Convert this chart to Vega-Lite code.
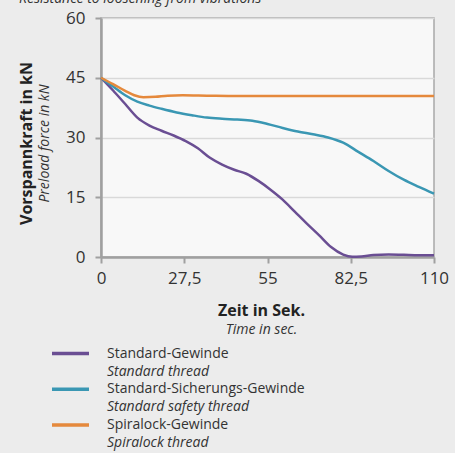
{
  "$schema": "https://vega.github.io/schema/vega-lite/v6.json",
  "width": 333,
  "height": 239,
  "autosize": "none",
  "padding": {"left": 101, "top": 18, "right": 21, "bottom": 196},
  "background": "#ececec",
  "config": {
    "font": "Open Sans",
    "view": {"fill": "#f8f8f8", "stroke": "#a8a8a8", "strokeWidth": 1.5},
    "axis": {
      "domainColor": "#a0a0a0", "domainWidth": 2.5,
      "tickColor": "#a0a0a0", "tickWidth": 2, "tickSize": 6,
      "labelFontSize": 17, "labelColor": "#333333", "labelFont": "Open Sans",
      "labelFlush": false, "labelOverlap": false,
      "titleColor": "#222222", "titleFont": "Open Sans",
      "gridColor": "#d9d9d9", "gridWidth": 1.5
    }
  },
  "title": {
    "text": "Resistance to loosening from vibrations",
    "fontStyle": "italic", "fontWeight": "normal", "fontSize": 14,
    "color": "#333333", "anchor": "start", "frame": "group",
    "baseline": "alphabetic", "dx": -82, "offset": -8
  },
  "data": {
    "values": [
      {"s": "Standard-Gewinde", "e": "Standard thread", "t": 0, "kN": 45},
      {"s": "Standard-Gewinde", "e": "Standard thread", "t": 4, "kN": 41.8},
      {"s": "Standard-Gewinde", "e": "Standard thread", "t": 8, "kN": 38.4},
      {"s": "Standard-Gewinde", "e": "Standard thread", "t": 12, "kN": 35},
      {"s": "Standard-Gewinde", "e": "Standard thread", "t": 16, "kN": 33},
      {"s": "Standard-Gewinde", "e": "Standard thread", "t": 20, "kN": 31.7},
      {"s": "Standard-Gewinde", "e": "Standard thread", "t": 24, "kN": 30.5},
      {"s": "Standard-Gewinde", "e": "Standard thread", "t": 28, "kN": 29.1},
      {"s": "Standard-Gewinde", "e": "Standard thread", "t": 32, "kN": 27.3},
      {"s": "Standard-Gewinde", "e": "Standard thread", "t": 36, "kN": 24.9},
      {"s": "Standard-Gewinde", "e": "Standard thread", "t": 40, "kN": 23.2},
      {"s": "Standard-Gewinde", "e": "Standard thread", "t": 44, "kN": 21.9},
      {"s": "Standard-Gewinde", "e": "Standard thread", "t": 48, "kN": 20.9},
      {"s": "Standard-Gewinde", "e": "Standard thread", "t": 52, "kN": 19.1},
      {"s": "Standard-Gewinde", "e": "Standard thread", "t": 56, "kN": 16.9},
      {"s": "Standard-Gewinde", "e": "Standard thread", "t": 60, "kN": 14.4},
      {"s": "Standard-Gewinde", "e": "Standard thread", "t": 64, "kN": 11.4},
      {"s": "Standard-Gewinde", "e": "Standard thread", "t": 68, "kN": 8.4},
      {"s": "Standard-Gewinde", "e": "Standard thread", "t": 72, "kN": 5.5},
      {"s": "Standard-Gewinde", "e": "Standard thread", "t": 76, "kN": 2.5},
      {"s": "Standard-Gewinde", "e": "Standard thread", "t": 80, "kN": 0.6},
      {"s": "Standard-Gewinde", "e": "Standard thread", "t": 83, "kN": 0.05},
      {"s": "Standard-Gewinde", "e": "Standard thread", "t": 86, "kN": 0.15},
      {"s": "Standard-Gewinde", "e": "Standard thread", "t": 90, "kN": 0.5},
      {"s": "Standard-Gewinde", "e": "Standard thread", "t": 95, "kN": 0.65},
      {"s": "Standard-Gewinde", "e": "Standard thread", "t": 100, "kN": 0.55},
      {"s": "Standard-Gewinde", "e": "Standard thread", "t": 105, "kN": 0.45},
      {"s": "Standard-Gewinde", "e": "Standard thread", "t": 110, "kN": 0.45},
      {"s": "Standard-Sicherungs-Gewinde", "e": "Standard safety thread", "t": 0, "kN": 45},
      {"s": "Standard-Sicherungs-Gewinde", "e": "Standard safety thread", "t": 4, "kN": 42.8},
      {"s": "Standard-Sicherungs-Gewinde", "e": "Standard safety thread", "t": 8, "kN": 40.6},
      {"s": "Standard-Sicherungs-Gewinde", "e": "Standard safety thread", "t": 12, "kN": 39},
      {"s": "Standard-Sicherungs-Gewinde", "e": "Standard safety thread", "t": 16, "kN": 38},
      {"s": "Standard-Sicherungs-Gewinde", "e": "Standard safety thread", "t": 20, "kN": 37.2},
      {"s": "Standard-Sicherungs-Gewinde", "e": "Standard safety thread", "t": 25, "kN": 36.3},
      {"s": "Standard-Sicherungs-Gewinde", "e": "Standard safety thread", "t": 30, "kN": 35.6},
      {"s": "Standard-Sicherungs-Gewinde", "e": "Standard safety thread", "t": 35, "kN": 35},
      {"s": "Standard-Sicherungs-Gewinde", "e": "Standard safety thread", "t": 40, "kN": 34.7},
      {"s": "Standard-Sicherungs-Gewinde", "e": "Standard safety thread", "t": 45, "kN": 34.5},
      {"s": "Standard-Sicherungs-Gewinde", "e": "Standard safety thread", "t": 50, "kN": 34.2},
      {"s": "Standard-Sicherungs-Gewinde", "e": "Standard safety thread", "t": 55, "kN": 33.4},
      {"s": "Standard-Sicherungs-Gewinde", "e": "Standard safety thread", "t": 60, "kN": 32.4},
      {"s": "Standard-Sicherungs-Gewinde", "e": "Standard safety thread", "t": 65, "kN": 31.5},
      {"s": "Standard-Sicherungs-Gewinde", "e": "Standard safety thread", "t": 70, "kN": 30.8},
      {"s": "Standard-Sicherungs-Gewinde", "e": "Standard safety thread", "t": 75, "kN": 30},
      {"s": "Standard-Sicherungs-Gewinde", "e": "Standard safety thread", "t": 80, "kN": 28.7},
      {"s": "Standard-Sicherungs-Gewinde", "e": "Standard safety thread", "t": 85, "kN": 26.4},
      {"s": "Standard-Sicherungs-Gewinde", "e": "Standard safety thread", "t": 90, "kN": 24.1},
      {"s": "Standard-Sicherungs-Gewinde", "e": "Standard safety thread", "t": 95, "kN": 21.6},
      {"s": "Standard-Sicherungs-Gewinde", "e": "Standard safety thread", "t": 100, "kN": 19.4},
      {"s": "Standard-Sicherungs-Gewinde", "e": "Standard safety thread", "t": 105, "kN": 17.6},
      {"s": "Standard-Sicherungs-Gewinde", "e": "Standard safety thread", "t": 110, "kN": 15.9},
      {"s": "Spiralock-Gewinde", "e": "Spiralock thread", "t": 0, "kN": 45},
      {"s": "Spiralock-Gewinde", "e": "Spiralock thread", "t": 4, "kN": 43.4},
      {"s": "Spiralock-Gewinde", "e": "Spiralock thread", "t": 8, "kN": 41.7},
      {"s": "Spiralock-Gewinde", "e": "Spiralock thread", "t": 11, "kN": 40.6},
      {"s": "Spiralock-Gewinde", "e": "Spiralock thread", "t": 14, "kN": 40.1},
      {"s": "Spiralock-Gewinde", "e": "Spiralock thread", "t": 18, "kN": 40.2},
      {"s": "Spiralock-Gewinde", "e": "Spiralock thread", "t": 22, "kN": 40.5},
      {"s": "Spiralock-Gewinde", "e": "Spiralock thread", "t": 27, "kN": 40.6},
      {"s": "Spiralock-Gewinde", "e": "Spiralock thread", "t": 35, "kN": 40.5},
      {"s": "Spiralock-Gewinde", "e": "Spiralock thread", "t": 45, "kN": 40.4},
      {"s": "Spiralock-Gewinde", "e": "Spiralock thread", "t": 70, "kN": 40.4},
      {"s": "Spiralock-Gewinde", "e": "Spiralock thread", "t": 110, "kN": 40.4}
    ]
  },
  "layer": [
    {
      "mark": {"type": "line", "strokeWidth": 2.5, "interpolate": "monotone"},
      "encoding": {
        "x": {
          "field": "t", "type": "quantitative",
          "scale": {"domain": [0, 110], "nice": false, "zero": false},
          "axis": {
            "values": [0, 27.5, 55, 82.5, 110], "grid": false,
            "labelExpr": "replace(format(datum.value, '.1~f'), '.', ',')", "labelPadding": 7,
            "title": "Zeit in Sek.", "titleFontWeight": "bold", "titleFontSize": 16,
            "titleBaseline": "alphabetic", "titleX": 160, "titleY": 58.7
          }
        },
        "y": {
          "field": "kN", "type": "quantitative",
          "scale": {"domain": [0, 60], "nice": false},
          "axis": {
            "values": [0, 15, 30, 45, 60], "grid": true, "labelPadding": 10,
            "title": "Vorspannkraft in kN", "titleFontWeight": "bold", "titleFontSize": 16,
            "titleBaseline": "alphabetic", "titleAngle": -90, "titleX": -70, "titleY": 125
          }
        },
        "color": {
          "field": "s", "type": "nominal",
          "scale": {
            "domain": ["Standard-Gewinde", "Standard-Sicherungs-Gewinde", "Spiralock-Gewinde"],
            "range": ["#6a4e93", "#3a97b3", "#e5893c"]
          },
          "legend": {
            "orient": "none", "legendX": -51, "legendY": 315, "title": null,
            "direction": "vertical", "padding": 0,
            "symbolType": "stroke", "symbolSize": 1369, "symbolStrokeWidth": 3.5,
            "labelFontSize": 14, "labelColor": "#333333", "labelOffset": 16,
            "labelLimit": 400, "rowPadding": 7.8
          }
        }
      }
    },
    {
      "mark": {"type": "line", "strokeWidth": 2.5, "interpolate": "monotone", "opacity": 0},
      "encoding": {
        "x": {
          "field": "t", "type": "quantitative",
          "axis": {
            "orient": "bottom", "labels": false, "ticks": false, "domain": false, "grid": false,
            "title": "Time in sec.", "titleFontWeight": "normal", "titleFontStyle": "italic",
            "titleFontSize": 14, "titleColor": "#333333",
            "titleBaseline": "alphabetic", "titleX": 160, "titleY": 76.3
          }
        },
        "y": {
          "field": "kN", "type": "quantitative",
          "axis": {
            "orient": "left", "labels": false, "ticks": false, "domain": false, "grid": false,
            "title": "Preload force in kN", "titleFontWeight": "normal", "titleFontStyle": "italic",
            "titleFontSize": 14, "titleColor": "#333333",
            "titleBaseline": "alphabetic", "titleAngle": -90, "titleX": -53, "titleY": 125
          }
        },
        "strokeDash": {
          "field": "e", "type": "nominal",
          "scale": {
            "domain": ["Standard thread", "Standard safety thread", "Spiralock thread"],
            "range": [[1, 0], [1, 0], [1, 0]]
          },
          "legend": {
            "orient": "none", "legendX": -51, "legendY": 333, "title": null,
            "direction": "vertical", "padding": 0,
            "symbolType": "stroke", "symbolSize": 1369, "symbolStrokeWidth": 3.5,
            "symbolOpacity": 0, "symbolStrokeColor": "transparent",
            "labelFontSize": 14, "labelFontStyle": "italic", "labelColor": "#333333",
            "labelOffset": 16, "labelLimit": 400, "rowPadding": 7.8
          }
        }
      }
    }
  ],
  "resolve": {"axis": {"x": "independent", "y": "independent"}}
}
